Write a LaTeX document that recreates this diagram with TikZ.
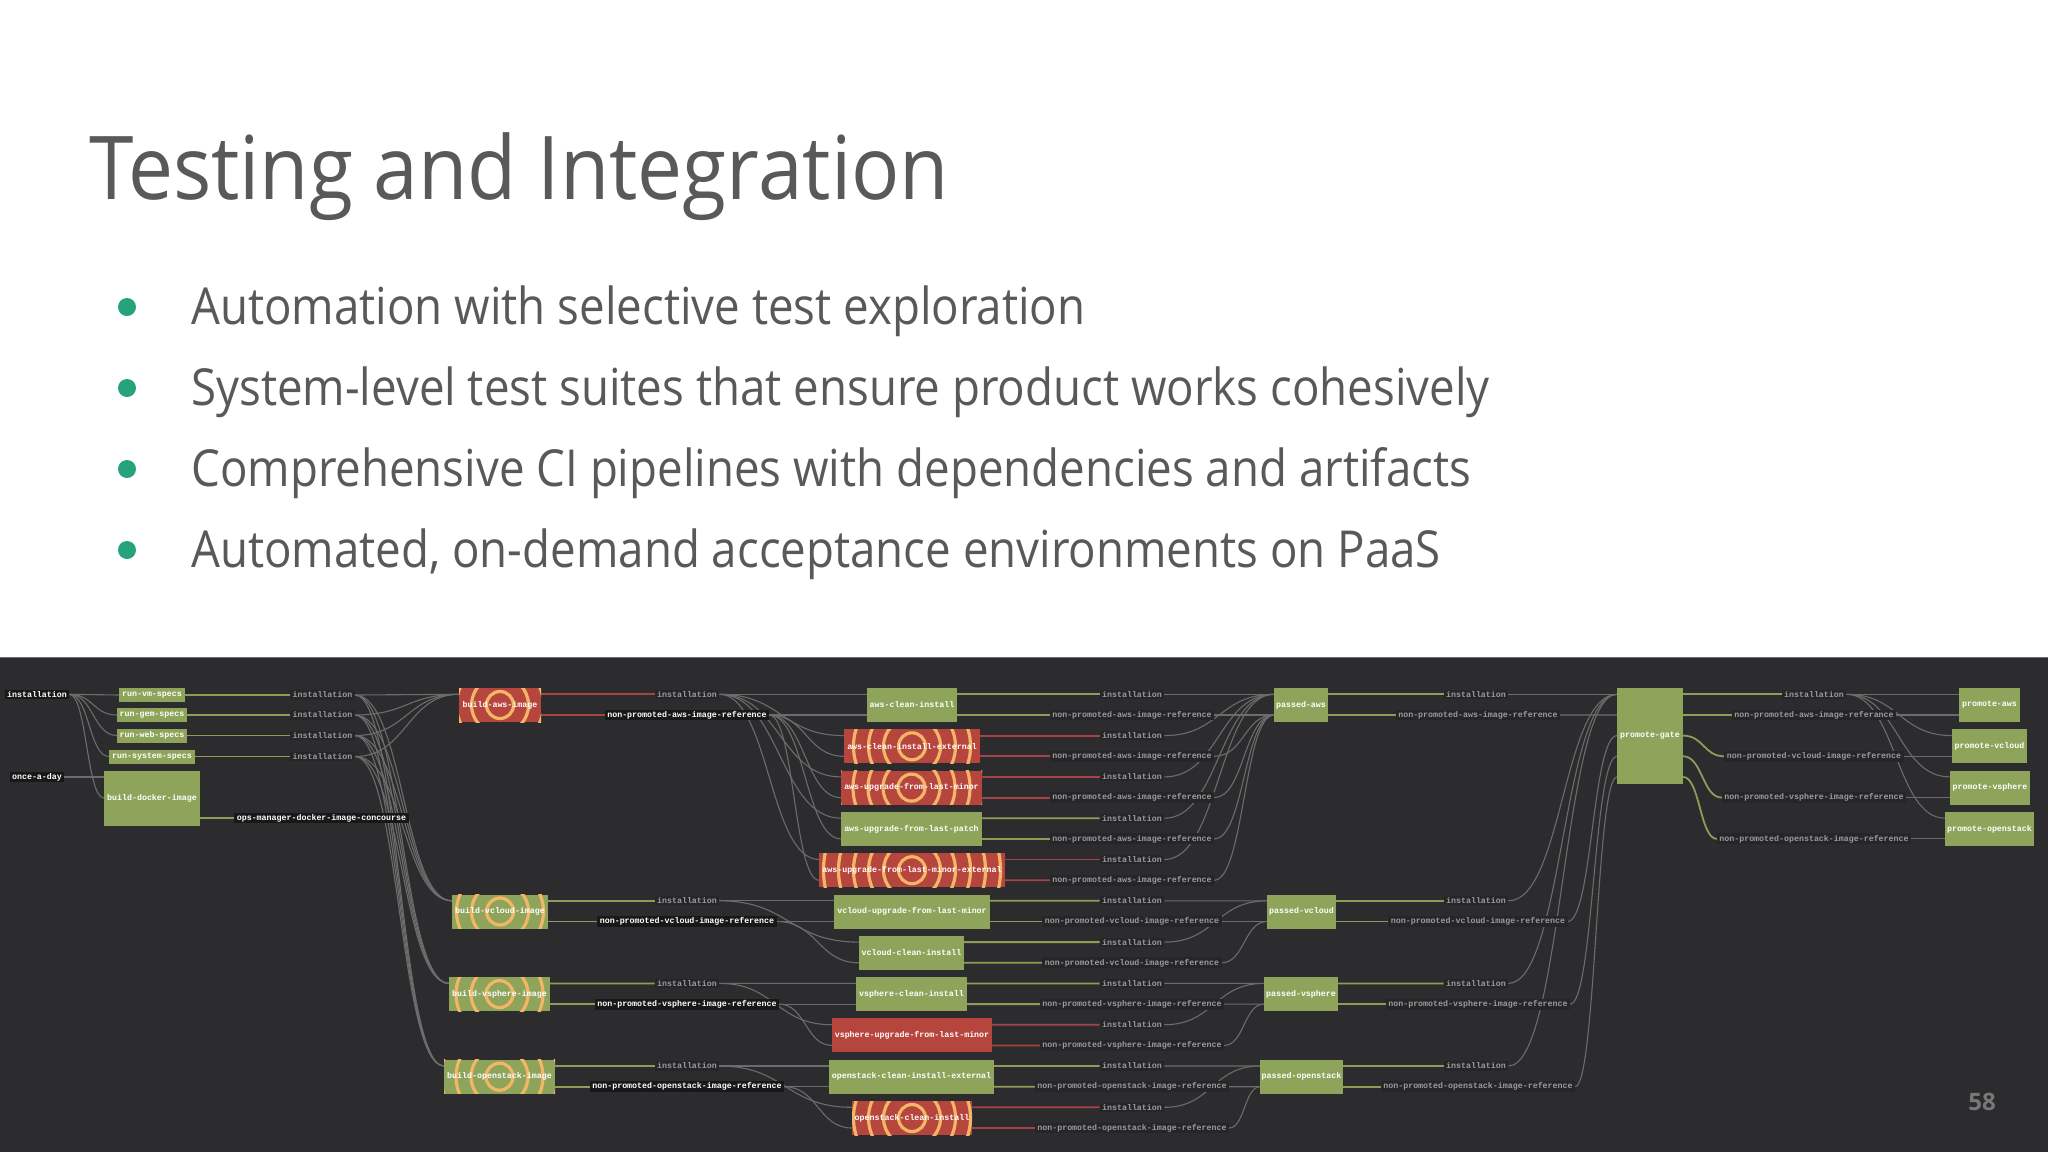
\documentclass[tikz,border=0pt]{standalone}
\usepackage{fontspec}
\setmainfont{Open Sans}
\newfontfamily\titlefont[FakeStretch=0.912]{Open Sans}
\newfontfamily\bulletfont[FakeStretch=0.895]{Open Sans}
\newfontfamily\monofnt{Liberation Mono}
\usetikzlibrary{calc}
\definecolor{titlegray}{RGB}{89,89,89}
\definecolor{bulletgreen}{RGB}{38,163,124}
\definecolor{panel}{RGB}{44,44,46}
\definecolor{panelline}{RGB}{110,110,112}
\definecolor{jgreenc}{RGB}{141,164,90}
\definecolor{jredc}{RGB}{182,69,62}
\definecolor{ringc}{RGB}{242,182,102}
\definecolor{edgec}{RGB}{108,108,108}
\definecolor{lgreen}{RGB}{143,156,86}
\definecolor{lred}{RGB}{165,68,70}
\definecolor{labgray}{RGB}{155,155,155}
\definecolor{labbg}{RGB}{38,38,40}
\definecolor{labbgd}{RGB}{24,24,24}
\definecolor{pagenum}{RGB}{120,120,120}
\newcommand\jobfont{\monofnt\bfseries\fontsize{8.3}{9}\selectfont}
\pgfdeclarelayer{back}
\pgfdeclarelayer{edges}
\pgfsetlayers{back,edges,main}
\tikzset{
  jobbox/.style={fill=jgreenc, minimum height=34, inner sep=0, outer sep=0, text=white, font=\jobfont},
  jgreen/.style={fill=jgreenc},
  jred/.style={fill=jredc},
  ringed/.style={path picture={\foreach \rr in {13.5,28.5,43.5,58.5,73.5,88.5,103.5}{\draw[ringc,line width=3.2pt] (path picture bounding box.center) circle[radius=\rr pt];}}},
  res/.style={fill=labbg, text=labgray, font=\jobfont, inner xsep=2.5, inner ysep=1.5, outer sep=0},
  resw/.style={res, text=white, fill=labbgd},
  curvy/.style={to path={let \p1=(\tikztostart), \p2=(\tikztotarget), \n1={0.5*\x1+0.5*\x2} in .. controls (\n1,\y1) and (\n1,\y2) .. (\p2)}},
  gedge/.style={curvy, draw=edgec, line width=1.1pt},
  oedge/.style={curvy, line width=1.8pt},
}
\newcommand\job[6]{%
  \node[jobbox,#5,minimum width={#3-#2},anchor=north west] (#1) at (#2,#4) {#6};
  \coordinate (#1-a) at ($(#1.north west)+(0,6.3)$);
  \coordinate (#1-b) at ($(#1.north west)+(0,27)$);
  \coordinate (#1-A) at ($(#1.north east)+(0,6.3)$);
  \coordinate (#1-B) at ($(#1.north east)+(0,27)$);
}
\begin{document}
\begin{tikzpicture}[x=1pt,y=-1pt]
\useasboundingbox (0,0) rectangle (2048,1152);
\begin{pgfonlayer}{back}
\fill[white] (0,0) rectangle (2048,657);
\fill[panel] (0,657) rectangle (2048,1152);
\draw[panelline,line width=1.5pt] (0,657.5) -- (2048,657.5);
\end{pgfonlayer}

% slide text
\node[anchor=base west, font=\titlefont\fontsize{88}{100}\selectfont, text=titlegray, inner sep=0] (title) at (89,199) {Testing and Integration};
\foreach \k/\tt in {0/Automation with selective test exploration,1/System-level test suites that ensure product works cohesively,2/Comprehensive CI pipelines with dependencies and artifacts,3/{Automated, on-demand acceptance environments on PaaS}}{
  \node[anchor=base west, font=\bulletfont\fontsize{51}{60}\selectfont, text=titlegray, inner sep=0] (b\k) at (191,{324+81*\k}) {\tt};
  \fill[bulletgreen] (127,{307+81*\k}) circle[radius=9pt];
}
\node[font=\bfseries\fontsize{24}{28}\selectfont, text=pagenum] (pnum) at (1982,1102) {58};

% column 0/1
\node[resw] (srcInst) at (37,694.3) {installation};
\node[resw] (once) at (37,777) {once-a-day};
\node[jobbox, minimum width=66, minimum height=14, anchor=north west] (rvm) at (119,688) {run-vm-specs};
\node[jobbox, minimum width=70, minimum height=14, anchor=north west] (rgem) at (117,708) {run-gem-specs};
\node[jobbox, minimum width=70, minimum height=14, anchor=north west] (rweb) at (117,728.5) {run-web-specs};
\node[jobbox, minimum width=86, minimum height=14, anchor=north west] (rsys) at (109,749.5) {run-system-specs};
\node[jobbox, minimum width=96, minimum height=55, anchor=north west] (bdock) at (104,771) {build-docker-image};
\coordinate (bdock-i1) at ($(bdock.north west)+(0,6)$);
\coordinate (bdock-i2) at ($(bdock.north west)+(0,27)$);
\coordinate (bdock-o) at ($(bdock.north east)+(0,47)$);
\node[res] (l1a) at (322.5,695) {installation};
\node[res] (l1b) at (322.5,715) {installation};
\node[res] (l1c) at (322.5,735.5) {installation};
\node[res] (l1d) at (322.5,756.5) {installation};
\node[resw] (lops) at (321.5,818) {ops-manager-docker-image-concourse};

% column 2
\job{baws}{459}{541}{688}{jred,ringed}{build-aws-image}
\job{bvcl}{452}{548}{894.5}{jgreen,ringed}{build-vcloud-image}
\job{bvsp}{449}{550}{977.1}{jgreen,ringed}{build-vsphere-image}
\job{bops}{444}{555}{1059.7}{jgreen,ringed}{build-openstack-image}
\node[res] (c2i-aws) at (687,694.3) {installation};
\node[resw] (c2n-aws) at (687,715) {non-promoted-aws-image-reference};
\node[res] (c2i-vcl) at (687,900.8) {installation};
\node[resw] (c2n-vcl) at (687,921.5) {non-promoted-vcloud-image-reference};
\node[res] (c2i-vsp) at (687,983.4) {installation};
\node[resw] (c2n-vsp) at (687,1004.1) {non-promoted-vsphere-image-reference};
\node[res] (c2i-ops) at (687,1066) {installation};
\node[resw] (c2n-ops) at (687,1086.7) {non-promoted-openstack-image-reference};

% column 3
\job{aci}{867}{957}{688}{jgreen}{aws-clean-install}
\job{acie}{844}{980}{729.3}{jred,ringed}{aws-clean-install-external}
\job{aulm}{841}{982}{770.6}{jred,ringed}{aws-upgrade-from-last-minor}
\job{aulp}{841}{982}{811.9}{jgreen}{aws-upgrade-from-last-patch}
\job{aulme}{819}{1005}{853.2}{jred,ringed}{aws-upgrade-from-last-minor-external}
\job{vulm}{834}{990}{894.5}{jgreen}{vcloud-upgrade-from-last-minor}
\job{vci}{859}{964}{935.8}{jgreen}{vcloud-clean-install}
\job{vsci}{856}{967}{977.1}{jgreen}{vsphere-clean-install}
\job{vsulm}{832}{992}{1018.4}{jred}{vsphere-upgrade-from-last-minor}
\job{ocie}{829}{994}{1059.7}{jgreen}{openstack-clean-install-external}
\job{oci}{852}{972}{1101}{jred,ringed}{openstack-clean-install}
\foreach \i/\pv in {0/aws,1/aws,2/aws,3/aws,4/aws,5/vcloud,6/vcloud,7/vsphere,8/vsphere,9/openstack,10/openstack}{
  \node[res] (c3i-\i) at (1132,{694.3+41.3*\i}) {installation};
  \node[res] (c3n-\i) at (1132,{715+41.3*\i}) {non-promoted-\pv-image-reference};
}

% column 4
\job{paws}{1274}{1328}{688}{jgreen}{passed-aws}
\job{pvcl}{1267}{1336}{894.5}{jgreen}{passed-vcloud}
\job{pvsp}{1264}{1338}{977.1}{jgreen}{passed-vsphere}
\job{pops}{1260}{1343}{1059.7}{jgreen}{passed-openstack}
\node[res] (c4i-aws) at (1476,694.3) {installation};
\node[res] (c4n-aws) at (1478,715) {non-promoted-aws-image-reference};
\node[res] (c4i-vcl) at (1476,900.8) {installation};
\node[res] (c4n-vcl) at (1478,921.5) {non-promoted-vcloud-image-reference};
\node[res] (c4i-vsp) at (1476,983.4) {installation};
\node[res] (c4n-vsp) at (1478,1004.1) {non-promoted-vsphere-image-reference};
\node[res] (c4i-ops) at (1476,1066) {installation};
\node[res] (c4n-ops) at (1478,1086.7) {non-promoted-openstack-image-reference};

% column 5
\node[jobbox, minimum width=66, minimum height=96, anchor=north west] (pg) at (1617,688) {promote-gate};
\foreach \k in {0,...,4}{
  \coordinate (pg-\k) at ($(pg.north west)+(0,{6.3+20.65*\k})$);
  \coordinate (pgR-\k) at ($(pg.north east)+(0,{6.3+20.65*\k})$);
}
\node[res] (c5i) at (1814,694.3) {installation};
\node[res] (c5n-aws) at (1814,715) {non-promoted-aws-image-referance};
\node[res] (c5n-vcl) at (1814,756.3) {non-promoted-vcloud-image-reference};
\node[res] (c5n-vsp) at (1814,797.6) {non-promoted-vsphere-image-reference};
\node[res] (c5n-ops) at (1814,838.9) {non-promoted-openstack-image-reference};

% column 6
\job{pra}{1959}{2020}{688}{jgreen}{promote-aws}
\job{prv}{1952}{2027}{729.3}{jgreen}{promote-vcloud}
\job{prs}{1950}{2030}{770.6}{jgreen}{promote-vsphere}
\job{pro}{1945}{2034}{811.9}{jgreen}{promote-openstack}

\begin{pgfonlayer}{edges}
% sources
\foreach \tg in {rvm,rgem,rweb,rsys}{\draw[gedge] (srcInst.east) to (\tg.west);}
\draw[gedge] (srcInst.east) to (bdock-i2);
\draw[gedge] (once.east) to (bdock-i1);
\draw[oedge,draw=lgreen] (rvm.east) to (l1a.west);
\draw[oedge,draw=lgreen] (rgem.east) to (l1b.west);
\draw[oedge,draw=lgreen] (rweb.east) to (l1c.west);
\draw[oedge,draw=lgreen] (rsys.east) to (l1d.west);
\draw[oedge,draw=lgreen] (bdock-o) to (lops.west);
% to build images
\foreach \src in {l1a,l1b,l1c,l1d}{
  \foreach \tg in {baws,bvcl,bvsp,bops}{\draw[gedge] (\src.east) to (\tg-a);}
}
\draw[oedge,draw=lred] (baws-A) to (c2i-aws.west);
\draw[oedge,draw=lred] (baws-B) to (c2n-aws.west);
\foreach \bj/\cl in {bvcl/vcl,bvsp/vsp,bops/ops}{
  \draw[oedge,draw=lgreen] (\bj-A) to (c2i-\cl.west);
  \draw[oedge,draw=lgreen] (\bj-B) to (c2n-\cl.west);
}
% to column 3 jobs
\foreach \jj in {aci,acie,aulm,aulp,aulme}{
  \draw[gedge] (c2i-aws.east) to (\jj-a);
  \draw[gedge] (c2n-aws.east) to (\jj-b);
}
\foreach \jj in {vulm,vci}{
  \draw[gedge] (c2i-vcl.east) to (\jj-a);
  \draw[gedge] (c2n-vcl.east) to (\jj-b);
}
\foreach \jj in {vsci,vsulm}{
  \draw[gedge] (c2i-vsp.east) to (\jj-a);
  \draw[gedge] (c2n-vsp.east) to (\jj-b);
}
\foreach \jj in {ocie,oci}{
  \draw[gedge] (c2i-ops.east) to (\jj-a);
  \draw[gedge] (c2n-ops.east) to (\jj-b);
}
\foreach \jj/\ii/\cc in {aci/0/lgreen,acie/1/lred,aulm/2/lred,aulp/3/lgreen,aulme/4/lred,vulm/5/lgreen,vci/6/lgreen,vsci/7/lgreen,vsulm/8/lred,ocie/9/lgreen,oci/10/lred}{
  \draw[oedge,draw=\cc] (\jj-A) to (c3i-\ii.west);
  \draw[oedge,draw=\cc] (\jj-B) to (c3n-\ii.west);
}
% to passed jobs
\foreach \ii/\pj in {0/paws,1/paws,2/paws,3/paws,4/paws,5/pvcl,6/pvcl,7/pvsp,8/pvsp,9/pops,10/pops}{
  \draw[gedge] (c3i-\ii.east) to (\pj-a);
  \draw[gedge] (c3n-\ii.east) to (\pj-b);
}
\foreach \pj/\cl in {paws/aws,pvcl/vcl,pvsp/vsp,pops/ops}{
  \draw[oedge,draw=lgreen] (\pj-A) to (c4i-\cl.west);
  \draw[oedge,draw=lgreen] (\pj-B) to (c4n-\cl.west);
}
% to promote-gate
\foreach \cl in {aws,vcl,vsp,ops}{\draw[gedge] (c4i-\cl.east) to (pg-0);}
\draw[gedge] (c4n-aws.east) to (pg-1);
\draw[gedge] (c4n-vcl.east) to (pg-2);
\draw[gedge] (c4n-vsp.east) to (pg-3);
\draw[gedge] (c4n-ops.east) to (pg-4);
\draw[oedge,draw=lgreen] (pgR-0) to (c5i.west);
\draw[oedge,draw=lgreen] (pgR-1) to (c5n-aws.west);
\draw[oedge,draw=lgreen] (pgR-2) to (c5n-vcl.west);
\draw[oedge,draw=lgreen] (pgR-3) to (c5n-vsp.west);
\draw[oedge,draw=lgreen] (pgR-4) to (c5n-ops.west);
% to promote jobs
\foreach \tg in {pra,prv,prs,pro}{\draw[gedge] (c5i.east) to (\tg-a);}
\draw[gedge] (c5n-aws.east) to (pra-b);
\draw[gedge] (c5n-vcl.east) to (prv-b);
\draw[gedge] (c5n-vsp.east) to (prs-b);
\draw[gedge] (c5n-ops.east) to (pro-b);
\end{pgfonlayer}
\end{tikzpicture}
\end{document}
